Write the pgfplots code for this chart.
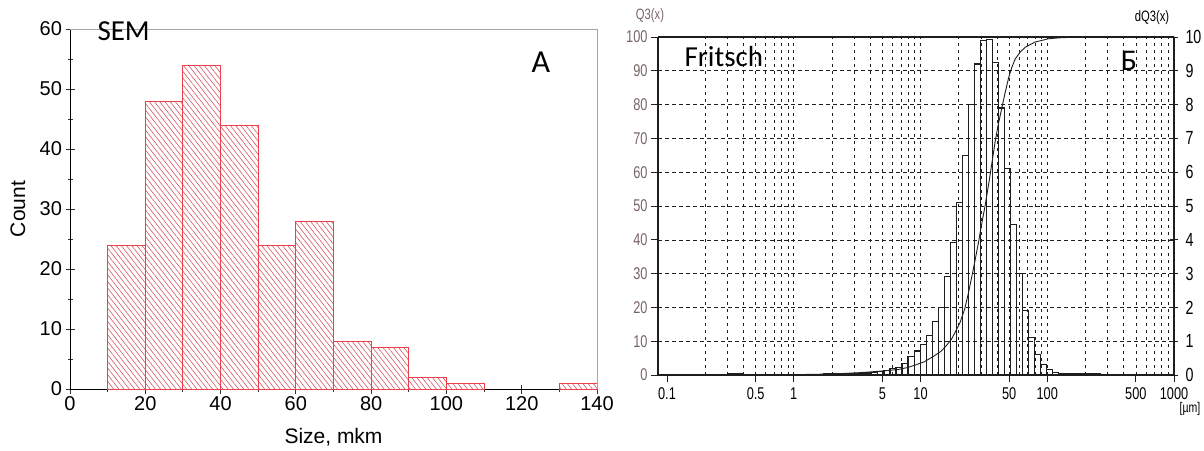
\documentclass[border=0pt]{standalone}
\usepackage{fontspec}
\setmainfont{Liberation Sans}
\newfontfamily\carlito{Carlito}
\newfontfamily\narrow[FakeStretch=0.75]{Liberation Sans}
\usepackage{pgfplots}
\pgfplotsset{compat=1.18}
\usetikzlibrary{patterns.meta}
\pgfplotsset{/pgf/number format/assume math mode=true}
\definecolor{barred}{RGB}{236,64,74}
\definecolor{hatchred}{RGB}{214,86,98}
\definecolor{labgray}{RGB}{120,100,100}
\definecolor{scan}{RGB}{30,30,30}
\begin{document}
\begin{tikzpicture}
\path[use as bounding box] (0pt,0pt) rectangle (1204pt,450pt);
% ---------------- Left panel (SEM) ----------------
\begin{axis}[
  at={(70pt,61pt)}, anchor=south west, scale only axis,
  width=527pt, height=360pt,
  xmin=0, xmax=140, ymin=0, ymax=60,
  xtick={0,20,...,140}, ytick={0,10,...,60},
  minor x tick num=1, minor y tick num=1,
  tick align=center,
  major tick length=9pt, minor tick length=5pt,
  axis x line*=bottom, axis y line*=left,
  axis line style={line width=1pt,-},
  tick style={line width=0.9pt, black!80},
  tick label style={font=\fontsize{20}{20}\selectfont},
  every axis x label/.style={at={(rel axis cs:0.5,0)}, yshift=-48pt, anchor=center},
  every axis y label/.style={at={(rel axis cs:0,0.5)}, xshift=-52pt, rotate=90, anchor=center},
  label style={font=\fontsize{21}{21}\selectfont},
  xlabel={Size, mkm}, ylabel={Count},
  clip=false,
]
\addplot[ybar interval, draw=barred, line width=0.9pt,
  pattern={Lines[angle=-52,distance=4.1pt,line width=0.6pt]}, pattern color=hatchred]
  coordinates {(10,24)(20,48)(30,54)(40,44)(50,24)(60,28)(70,8)(80,7)(90,2)(100,1)(110,0)};
\addplot[ybar interval, draw=barred, line width=0.9pt,
  pattern={Lines[angle=-52,distance=4.1pt,line width=0.6pt]}, pattern color=hatchred]
  coordinates {(130,1)(140,1)};
\draw[gray!70, line width=0.7pt] (rel axis cs:0,1) -- (rel axis cs:1,1) -- (rel axis cs:1,0);
\end{axis}
\node[anchor=west, font=\carlito\fontsize{29}{29}\selectfont] at (94pt,419pt) {SEM};
\node[font=\carlito\fontsize{32}{32}\selectfont] at (541pt,388pt) {А};
% ---------------- Right panel (Fritsch) ----------------
\begin{axis}[
  at={(658pt,75pt)}, anchor=south west, scale only axis,
  width=516pt, height=338pt,
  xmode=log, xmin=0.0849, xmax=1000, ymin=0, ymax=100,
  xtick={0.1,0.5,1,5,10,50,100,500,1000},
  xticklabels={0.1,0.5,1,5,10,50,100,500,1000},
  minor xtick={0.2,0.3,0.4,0.5,0.6,0.7,0.8,0.9,1,2,3,4,5,6,7,8,9,10,20,30,40,50,60,70,80,90,100,200,300,400,500,600,700,800,900},
  xminorgrids=true, ymajorgrids=true,
  minor x grid style={scan, line width=0.6pt, dash pattern=on 3pt off 4pt},
  major y grid style={scan, line width=0.6pt, dash pattern=on 4pt off 3pt},
  ytick={0,10,...,100},
  axis y line*=left, axis x line*=bottom,
  axis line style={line width=1.3pt, scan, -},
  tick align=outside, major tick length=7pt, minor tick length=0pt,
  tick style={line width=0.8pt, scan},
  x tick label style={font=\narrow\fontsize{17}{17}\selectfont, yshift=-2pt},
  y tick label style={font=\narrow\fontsize{17}{17}\selectfont, text=labgray},
]
\addplot[scan, line width=0.9pt] coordinates {
 (0.0849,0) (0.5,0.05) (1,0.1) (2,0.3) (3,0.6) (4,0.9) (5,1.2) (6.6,1.6) (7.9,2.2) (9,2.9)
 (10.7,3.9) (11.5,4.6) (13,5.8) (14.5,7) (16,8.7) (17.5,10.5) (19,13) (20.5,15.5)
 (22.3,19.5) (23.8,24) (26,31) (28.6,39) (30.5,45) (32.3,50) (35,58) (38.8,69)
 (41,74) (43.8,79) (46.5,83.5) (49.6,88) (52.5,91) (55.9,93.5) (61,95.5) (67.2,97)
 (80,98.5) (103,99.5) (130,99.8) (200,100) (1000,100)};
\draw[scan, line width=1.3pt] (axis description cs:0,1) -- (axis description cs:1,1) -- (axis description cs:1,0);
\end{axis}
\begin{axis}[
  at={(658pt,75pt)}, anchor=south west, scale only axis,
  width=516pt, height=338pt,
  xmode=log, xmin=0.0849, xmax=1000, ymin=0, ymax=10,
  axis x line=none, axis y line*=right,
  axis line style={line width=1pt, scan, -},
  ytick={0,1,...,10},
  tick align=center, major tick length=8pt,
  tick style={line width=0.8pt, scan},
  y tick label style={font=\narrow\fontsize{19}{19}\selectfont, xshift=4pt},
]
\addplot[ybar interval, draw=scan, line width=1.1pt, fill=none] coordinates {
 (1.386,0.025) (1.546,0.025) (1.724,0.03) (1.923,0.03) (2.145,0.03) (2.393,0.035)
 (2.670,0.04) (2.979,0.05) (3.323,0.05) (3.708,0.06) (4.137,0.08) (4.614,0.11)
 (5.148,0.14) (5.742,0.18) (6.406,0.23) (7.146,0.35) (7.972,0.55) (8.894,0.71)
 (9.922,0.89) (11.07,1.18) (12.35,1.57) (13.78,2.00) (15.37,2.92) (17.15,3.93)
 (19.13,5.10) (21.34,6.50) (23.81,8.00) (26.56,9.20) (29.63,9.90) (33.05,9.93)
 (36.87,9.25) (41.14,7.90) (45.89,6.10) (51.20,4.45) (57.12,3.00) (63.72,1.90)
 (71.09,1.10) (79.31,0.60) (88.48,0.30) (98.65,0.15) (110.1,0.08) (122.8,0.05)
 (137.0,0.03) (152.8,0.03) (170.5,0.03) (190.2,0.03) (212.2,0.03) (236.7,0.03) (264.1,0)};
\addplot[ybar interval, draw=scan, line width=1.1pt, fill=none] coordinates {
 (0.30,0.03) (0.35,0.03) (0.40,0)};
\end{axis}
\node[font=\narrow\fontsize{15}{15}\selectfont, text=labgray] at (650pt,434pt) {Q3(x)};
\node[font=\narrow\fontsize{15}{15}\selectfont] at (1152pt,432pt) {dQ3(x)};
\node[font=\narrow\fontsize{14}{14}\selectfont] at (1190pt,41pt) {[µm]};
\node[anchor=west, font=\carlito\fontsize{29}{29}\selectfont] at (681pt,393pt) {Fritsch};
\node[font=\carlito\fontsize{30}{30}\selectfont] at (1129pt,389pt) {Б};
\end{tikzpicture}
\end{document}
